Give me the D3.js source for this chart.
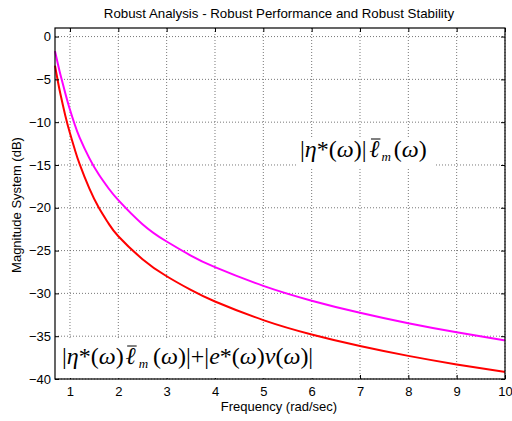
<!DOCTYPE html>
<html>
<head>
<meta charset="utf-8">
<script src="https://cdn.jsdelivr.net/npm/d3@7"></script>
<style>
  body { margin: 0; background: #fff; }
  svg { display: block; font-family: Arial, "Liberation Sans", sans-serif; }
</style>
</head>
<body>
<svg id="chart" width="512" height="421"></svg>
<script>
// data
const freq = [0.69, 0.75, 0.8, 0.9, 1.0, 1.1, 1.2, 1.4, 1.6, 1.8, 2, 2.5, 3, 3.5, 4, 5, 6, 7, 8, 9, 10];
const stability = [-1.7, -3.2, -4.4, -6.55, -8.55, -10.3, -11.8, -14.2, -16.15, -17.75, -19.1, -21.91, -23.94, -25.58, -26.94, -29.12, -30.85, -32.27, -33.49, -34.55, -35.48];
const performance = [-3.4, -5.25, -6.65, -9.15, -11.3, -13.2, -14.9, -17.74, -20.03, -21.85, -23.32, -26.0, -28.0, -29.6, -30.95, -33.12, -34.8, -36.15, -37.3, -38.3, -39.18];
const xTicks = [1, 2, 3, 4, 5, 6, 7, 8, 9, 10];
const yTicks = [0, -5, -10, -15, -20, -25, -30, -35, -40];

const svg = d3.select("#chart");
const m = {left: 55, right: 505, top: 28, bottom: 379};

const x = d3.scaleLinear().domain([0.69, 10]).range([m.left, m.right]);
const y = d3.scaleLinear().domain([-40, 1]).range([m.bottom, m.top]);

// grid
const grid = svg.append("g").attr("stroke", "#555").attr("stroke-width", 0.8).attr("stroke-dasharray", "1,2");
grid.selectAll("line.gx").data(xTicks).enter().append("line")
    .attr("x1", d => x(d)).attr("x2", d => x(d))
    .attr("y1", m.top).attr("y2", m.bottom);
grid.selectAll("line.gy").data(yTicks).enter().append("line")
    .attr("y1", d => y(d)).attr("y2", d => y(d))
    .attr("x1", m.left).attr("x2", m.right);

// curves
const line = d3.line().x(d => x(d[0])).y(d => y(d[1])).curve(d3.curveNatural);
svg.append("path").datum(d3.zip(freq, stability))
    .attr("d", line).attr("fill", "none").attr("stroke", "#ff00ff").attr("stroke-width", 2);
svg.append("path").datum(d3.zip(freq, performance))
    .attr("d", line).attr("fill", "none").attr("stroke", "#ff0000").attr("stroke-width", 2);

// axes (matlab style box with inner ticks)
const fmt = d3.format("d");
svg.append("g").attr("transform", `translate(0,${m.bottom})`)
    .call(d3.axisBottom(x).tickValues(xTicks).tickSizeInner(-4).tickSizeOuter(0).tickPadding(8).tickFormat(fmt));
svg.append("g").attr("transform", `translate(0,${m.top})`)
    .call(d3.axisTop(x).tickValues(xTicks).tickSizeInner(-4).tickSizeOuter(0).tickFormat(""));
svg.append("g").attr("transform", `translate(${m.left},0)`)
    .call(d3.axisLeft(y).tickValues(yTicks).tickSizeInner(-4).tickSizeOuter(0).tickPadding(4).tickFormat(fmt));
svg.append("g").attr("transform", `translate(${m.right},0)`)
    .call(d3.axisRight(y).tickValues(yTicks).tickSizeInner(-4).tickSizeOuter(0).tickFormat(""));
svg.selectAll(".domain").remove();
svg.selectAll(".tick text").attr("font-size", 13).attr("fill", "#000")
    .attr("font-family", "Arial, 'Liberation Sans', sans-serif");
svg.selectAll(".tick line").attr("stroke", "#000");
svg.append("rect").attr("x", m.left).attr("y", m.top)
    .attr("width", m.right - m.left).attr("height", m.bottom - m.top)
    .attr("fill", "none").attr("stroke", "#000").attr("stroke-width", 1.2);

// titles
svg.append("text").attr("x", 279).attr("y", 18).attr("text-anchor", "middle")
    .attr("font-size", 13.3).text("Robust Analysis - Robust Performance and Robust Stability");
svg.append("text").attr("x", 279).attr("y", 411).attr("text-anchor", "middle")
    .attr("font-size", 13).text("Frequency (rad/sec)");
svg.append("text").attr("transform", "translate(21,205) rotate(-90)").attr("text-anchor", "middle")
    .attr("font-size", 13).text("Magnitude System (dB)");

// math labels with white boxes
function mathLabel(parts, px, py, box) {
  svg.append("rect").attr("x", box[0]).attr("y", box[1]).attr("width", box[2]).attr("height", box[3]).attr("fill", "#fff");
  const t = svg.append("text").attr("x", px).attr("y", py)
      .attr("font-family", "'Liberation Serif', 'DejaVu Serif', serif").attr("font-size", 24);
  parts.forEach(p => {
    const s = t.append("tspan").text(p.s);
    if (p.i) s.attr("font-style", "italic");
    if (p.sub) s.attr("font-size", 13).attr("dy", 4);
    if (p.up) s.attr("dy", -4);
    if (p.dx) s.attr("dx", p.dx);
  });
  // overline over the script l
  const full = t.text();
  const idx = full.indexOf("\u2113");
  const ext = t.node().getExtentOfChar(idx);
  svg.append("line")
      .attr("x1", ext.x + 1.5).attr("x2", ext.x + ext.width + 1)
      .attr("y1", py - 18).attr("y2", py - 18)
      .attr("stroke", "#000").attr("stroke-width", 1);
}
mathLabel([
  {s: "|"}, {s: "η", i: 1}, {s: "*("}, {s: "ω", i: 1}, {s: ")|"},
  {s: "\u2113", i: 1, dx: 3}, {s: "m", i: 1, sub: 1, dx: 2}, {s: "(", up: 1, dx: 3}, {s: "ω", i: 1}, {s: ")"}
], 300, 157, [298, 137, 136, 30]);
mathLabel([
  {s: "|"}, {s: "η", i: 1}, {s: "*("}, {s: "ω", i: 1}, {s: ")"},
  {s: "\u2113", i: 1, dx: 2}, {s: "m", i: 1, sub: 1, dx: 3}, {s: "(", up: 1, dx: 5}, {s: "ω", i: 1}, {s: ")|+|"},
  {s: "e", i: 1}, {s: "*("}, {s: "ω", i: 1}, {s: ")"}, {s: "v", i: 1}, {s: "("}, {s: "ω", i: 1}, {s: ")|"}
], 62, 364, [56, 339, 261, 39]);
</script>
</body>
</html>
